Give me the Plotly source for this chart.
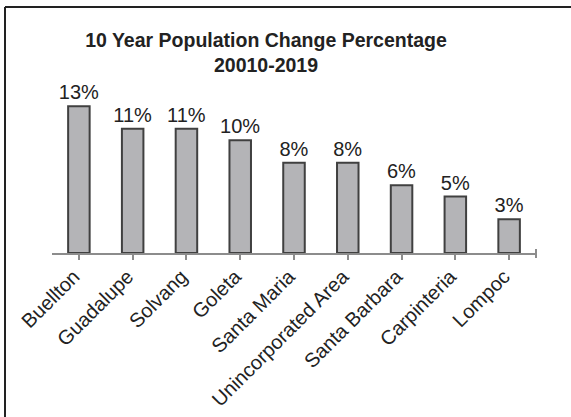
import plotly.graph_objects as go

categories = ["Buellton", "Guadalupe", "Solvang", "Goleta", "Santa Maria",
              "Unincorporated Area", "Santa Barbara", "Carpinteria", "Lompoc"]
change_pct = [0.13, 0.11, 0.11, 0.10, 0.08, 0.08, 0.06, 0.05, 0.03]
title_text = "<b>10 Year Population Change Percentage<br>20010-2019</b>"

W, H = 571, 417
L, R, T, B = 52, 35, 95, 164
pw, ph = W - L - R, H - T - B

fig = go.Figure(go.Bar(
    x=categories, y=change_pct,
    marker=dict(color="#b4b4b7", line=dict(color="#404040", width=2)),
    texttemplate="%{y:.0%}", textposition="outside",
    textfont=dict(size=20, color="#222222"),
    constraintext="none",
    cliponaxis=False,
))

# outer chart border (only left and top visible in the crop)
bx0 = (5 - L) / pw
by1 = (H - B - 7) / ph
fig.add_shape(type="line", xref="paper", yref="paper", x0=bx0, x1=bx0, y0=-3, y1=by1,
              line=dict(color="#222222", width=2))
fig.add_shape(type="line", xref="paper", yref="paper", x0=bx0, x1=3, y0=by1, y1=by1,
              line=dict(color="#222222", width=2))
# end tick at right of category axis
fig.add_shape(type="line", xref="paper", yref="paper", x0=1, x1=1,
              y0=-5 / ph, y1=4 / ph, line=dict(color="#8c8c8c", width=2))

fig.update_layout(
    width=W, height=H,
    margin=dict(l=L, r=R, t=T, b=B, autoexpand=False),
    paper_bgcolor="white", plot_bgcolor="white",
    font=dict(family="Liberation Sans, Arial, sans-serif", size=20, color="#222222"),
    title=dict(text=title_text, x=266 / W, xanchor="center",
               y=1 - 47 / H, yanchor="top", yref="container",
               font=dict(size=19.5, color="#222222")),
    bargap=0.6,
    showlegend=False,
    xaxis=dict(showline=True, linecolor="#8c8c8c", linewidth=2,
               ticks="outside", ticklen=5, tickwidth=2, tickcolor="#8c8c8c",
               tickangle=-45, showgrid=False, automargin=False,
               ticklabelshift=-5, ticklabelstandoff=-3,
               tickfont=dict(size=20, color="#222222")),
    yaxis=dict(visible=False, range=[0, 0.14], showgrid=False, zeroline=False,
               automargin=False),
)

fig.write_html("out.html", post_script="document.body.style.margin='0';",
               config={"displayModeBar": False})
